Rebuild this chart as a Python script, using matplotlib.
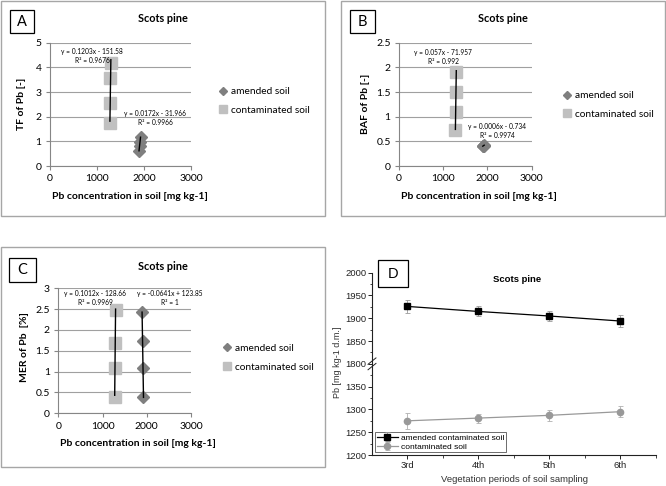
import matplotlib
matplotlib.use('Agg')
import matplotlib.pyplot as plt
from matplotlib.patches import Rectangle
import numpy as np

W, H = 666, 486

# Pb in soil (mg/kg) for the vegetation periods, panel D and x of A-C
periods = ['3rd', '4th', '5th', '6th']
pb_amended = [1926, 1915, 1905, 1894]
pb_amended_err = [14, 11, 12, 14]
pb_contam = [1275, 1281, 1287, 1295]
pb_contam_err = [18, 10, 12, 12]

tf_amended = [1.17, 0.98, 0.80, 0.62]
tf_contam = [1.73, 2.54, 3.58, 4.16]
baf_amended = [0.422, 0.415, 0.409, 0.402]
baf_contam = [0.72, 1.10, 1.51, 1.90]
mer_amended = [0.38, 1.08, 1.74, 2.42]
mer_contam = [0.40, 1.09, 1.69, 2.48]

eq_tf = ['y = 0.1203x - 151.58\nR² = 0.9676', 'y = 0.0172x - 31.966\nR² = 0.9966']
eq_baf = ['y = 0.057x - 71.957\nR² = 0.992', 'y = 0.0006x - 0.734\nR² = 0.9974']
eq_mer = ['y = 0.1012x - 128.66\nR² = 0.9969', 'y = -0.0641x + 123.85\nR² = 1']

XL_FONT = 'Lato'
OR_FONT = 'Liberation Sans'
GRID = '#a0a0a0'
AX_GREY = '#868686'
DIAM = '#7f7f7f'
SQ = '#c0c0c0'

fig = plt.figure(figsize=(W / 100, H / 100), dpi=100)
fig.patch.set_facecolor('white')


def fx(x):
    return x / W


def fy(y):
    return 1 - y / H


def add_axes_px(left, top, right, bottom):
    return fig.add_axes([fx(left), fy(bottom), (right - left) / W, (bottom - top) / H])


def frame_px(x0, y0, x1, y1, color, lw):
    fig.patches.append(Rectangle((fx(x0), fy(y1)), (x1 - x0) / W, (y1 - y0) / H,
                                 transform=fig.transFigure, fill=False,
                                 edgecolor=color, linewidth=lw))


def letter_box(x0, y0, x1, y1, letter, family):
    fig.patches.append(Rectangle((fx(x0), fy(y1)), (x1 - x0) / W, (y1 - y0) / H,
                                 transform=fig.transFigure, facecolor='white',
                                 edgecolor='black', linewidth=0.9, zorder=5))
    fig.text(fx((x0 + x1) / 2), fy((y0 + y1) / 2), letter, ha='center', va='center',
             fontsize=10.5, family=family, zorder=6)


def excel_panel(box, axpx, ylim, yticks, yfmt, amended, contam, eqs, eqpos,
                letter, letterpx, titlepx, ylabel, ylabpos, xlabpos, legpx):
    frame_px(*box, color='#a6a6a6', lw=1.0)
    ax = add_axes_px(*axpx)
    ax.set_xlim(0, 3000)
    ax.set_ylim(*ylim)
    ax.set_xticks([0, 1000, 2000, 3000])
    ax.set_yticks(yticks)
    ax.set_yticklabels([yfmt(v) for v in yticks])
    ax.yaxis.grid(True, color=GRID, linewidth=0.8)
    ax.set_axisbelow(True)
    for s in ['top', 'right']:
        ax.spines[s].set_visible(False)
    for s in ['left', 'bottom']:
        ax.spines[s].set_color(AX_GREY)
        ax.spines[s].set_linewidth(0.8)
    ax.tick_params(direction='out', length=3, width=0.8, color=AX_GREY,
                   labelsize=7.5, pad=3)
    for t in ax.get_xticklabels() + ax.get_yticklabels():
        t.set_family(XL_FONT)

    ax.plot(pb_amended, amended, 'D', color=DIAM, markersize=6.5, label='amended soil')
    ax.plot(pb_contam, contam, 's', color=SQ, markersize=8, label='contaminated soil')
    # linear trendlines over the data range
    for xs, ys in [(pb_contam, contam), (pb_amended, amended)]:
        k, b = np.polyfit(xs, ys, 1)
        xx = np.array([min(xs), max(xs)])
        ax.plot(xx, k * xx + b, color='black', linewidth=1.0)

    for txt, (ex, ey) in zip(eqs, eqpos):
        fig.text(fx(ex), fy(ey), txt, ha='center', va='center', multialignment='center',
                 fontsize=4.8, family=XL_FONT, linespacing=1.35)

    ax.set_ylabel(ylabel, fontsize=7.5, fontweight='bold', family=XL_FONT)
    ax.yaxis.set_label_coords(*ylabpos)
    ax.yaxis.label.set_va('center')
    ax.set_xlabel('Pb concentration in soil [mg kg-1]', fontsize=7.5,
                  fontweight='bold', family=XL_FONT)
    ax.xaxis.set_label_coords(*xlabpos)
    ax.xaxis.label.set_va('center')

    fig.text(fx(titlepx[0]), fy(titlepx[1]), 'Scots pine', ha='center', va='center',
             fontsize=7.8, fontweight='bold', family=XL_FONT)
    letter_box(*letterpx, letter, XL_FONT)

    ax.legend(loc='center left', bbox_to_anchor=(fx(legpx[0]), fy(legpx[1])),
              bbox_transform=fig.transFigure, frameon=False, prop={'family': XL_FONT, 'size': 7.3},
              handlelength=0.8, handletextpad=0.4, borderpad=0, borderaxespad=0,
              labelspacing=0.95, markerscale=0.65)
    return ax


# Panel A
excel_panel(box=(1, 1, 325, 216), axpx=(50, 42.7, 191, 166), ylim=(0, 5),
            yticks=[0, 1, 2, 3, 4, 5], yfmt=lambda v: '%d' % v,
            amended=tf_amended, contam=tf_contam, eqs=eq_tf,
            eqpos=[(92, 55.7), (155, 118)], letter='A', letterpx=(10, 10, 34, 33),
            titlepx=(163, 19), ylabel='TF of Pb [-]', ylabpos=(-0.2, 0.5),
            xlabpos=(0.567, -0.25), legpx=(218.5, 101))

# Panel B
excel_panel(box=(341, 1, 665, 216), axpx=(399, 42.7, 531.7, 166), ylim=(0, 2.5),
            yticks=[0, 0.5, 1, 1.5, 2, 2.5], yfmt=lambda v: ('%g' % v),
            amended=baf_amended, contam=baf_contam, eqs=eq_baf,
            eqpos=[(443, 57), (497, 130.7)], letter='B', letterpx=(350, 10, 375, 33),
            titlepx=(503, 19), ylabel='BAF of Pb [-]', ylabpos=(-0.256, 0.5),
            xlabpos=(0.603, -0.25), legpx=(562.5, 105))

# Panel C
excel_panel(box=(1, 247, 325, 467), axpx=(58.3, 288.3, 191, 413.3), ylim=(0, 3),
            yticks=[0, 0.5, 1, 1.5, 2, 2.5, 3], yfmt=lambda v: ('%g' % v),
            amended=mer_amended, contam=mer_contam, eqs=eq_mer,
            eqpos=[(95, 298), (170, 298)], letter='C', letterpx=(9, 258, 36, 282),
            titlepx=(163, 267), ylabel='MER of Pb  [%]', ylabpos=(-0.251, 0.533),
            xlabpos=(0.603, -0.24), legpx=(222.5, 357.8))


# Panel D: broken y axis (1400 -> 1800 gap removed)
def fwd(y):
    y = np.asarray(y, dtype=float)
    return np.where(y > 1600, y - 400, y)


def inv(y):
    y = np.asarray(y, dtype=float)
    return np.where(y > 1400, y + 400, y)


axD = add_axes_px(372, 272.7, 655.5, 455)
axD.set_yscale('function', functions=(fwd, inv))
axD.set_ylim(1200, 2000)
idx = np.arange(len(periods))
axD.set_xlim(-0.5, len(periods) - 0.5)
axD.set_xticks(idx)
axD.set_xticklabels(periods)
axD.set_xticks(idx + 0.5, minor=True)
axD.set_yticks([1200, 1250, 1300, 1350, 1800, 1850, 1900, 1950, 2000])
axD.set_yticks([1225, 1275, 1325, 1375, 1825, 1875, 1925, 1975], minor=True)
for s in ['top', 'right']:
    axD.spines[s].set_visible(False)
for s in ['left', 'bottom']:
    axD.spines[s].set_linewidth(0.8)
    axD.spines[s].set_color('#222222')
axD.tick_params(which='major', direction='out', length=3, width=0.7, labelsize=6.8,
                colors='#222222', pad=1.2)
axD.tick_params(which='minor', direction='out', length=1.8, width=0.6, colors='#222222')
for t in axD.get_xticklabels() + axD.get_yticklabels():
    t.set_family(OR_FONT)

axD.errorbar(idx, pb_amended, yerr=pb_amended_err, color='black', marker='s',
             markersize=4.5, linewidth=0.9, ecolor='#9a9a9a', elinewidth=0.6,
             capsize=1.8, capthick=0.6, label='amended contaminated soil')
axD.errorbar(idx, pb_contam, yerr=pb_contam_err, color='#999999', marker='o',
             markersize=4.5, linewidth=0.9, ecolor='#b0b0b0', elinewidth=0.6,
             capsize=1.8, capthick=0.6, label='contaminated soil')

# break marks on the left spine
trans = axD.get_yaxis_transform()
for dy in (-6, 6):
    axD.plot([-0.014, 0.014], [1800 + dy - 7, 1800 + dy + 7], color='#222222',
             linewidth=0.7, transform=trans, clip_on=False)

axD.set_ylabel('Pb [mg kg-1 d.m.]', fontsize=6.5, family=OR_FONT, color='#333333')
axD.yaxis.set_label_coords(-0.122, 0.51)
axD.yaxis.label.set_va('center')
axD.set_xlabel('Vegetation periods of soil sampling', fontsize=6.8, family=OR_FONT,
               color='#333333')
axD.xaxis.set_label_coords(0.503, -0.132)
axD.xaxis.label.set_va('center')

leg = axD.legend(loc='lower left', bbox_to_anchor=(0.01, 0.015), borderaxespad=0,
                 prop={'family': OR_FONT, 'size': 6}, fancybox=False, framealpha=1,
                 edgecolor='#555555', borderpad=0.2, labelspacing=0.15,
                 handlelength=2.6, handletextpad=0.3)
leg.get_frame().set_linewidth(0.6)

fig.text(fx(517), fy(279), 'Scots pine', ha='center', va='center', fontsize=6.8,
         fontweight='bold', family=OR_FONT)
letter_box(378, 260, 408, 287, 'D', OR_FONT)

fig.savefig('out.png', dpi=100)
